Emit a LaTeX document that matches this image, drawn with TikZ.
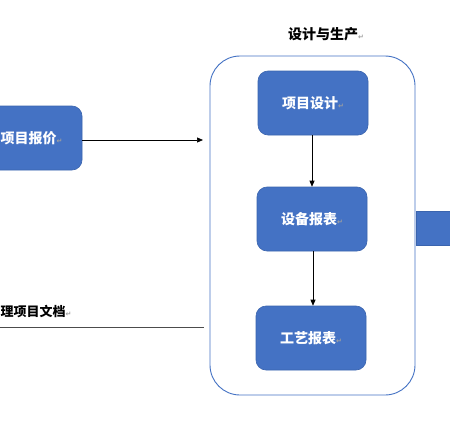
\documentclass[tikz,border=0pt]{standalone}
\usepackage{fontspec}
\usetikzlibrary{arrows.meta}
\newfontfamily\cjk{Noto Sans CJK SC}
\newfontfamily\dejavu{DejaVu Sans}
\definecolor{boxblue}{HTML}{4472C4}
\definecolor{boxedge}{HTML}{3A64AE}
\definecolor{retgray}{HTML}{A0A0A0}
\newcommand\retmark{{\dejavu\fontsize{7}{7}\selectfont\color{retgray}↵}}
\tikzset{
  bluebox/.style={rectangle, rounded corners=10pt, fill=boxblue, draw=boxedge, line width=0.6pt,
    minimum width=110pt, minimum height=64pt, inner sep=0pt,
    font=\cjk\bfseries\fontsize{14}{14}\selectfont, text=white},
  whitelabel/.style={inner sep=0pt, font=\cjk\bfseries\fontsize{14}{14}\selectfont, text=white},
  blacklabel/.style={inner sep=0pt, font=\cjk\bfseries\fontsize{14}{14}\selectfont, text=black},
  flowarrow/.style={-{Triangle[length=6pt,width=5pt]}, line width=0.7pt, draw=black},
}
\begin{document}
\begin{tikzpicture}[x=1pt,y=-1pt]
\useasboundingbox (0,0) rectangle (450,423);
\clip (0,0) rectangle (450,423);
\fill[white] (0,0) rectangle (450,423);
% container
\node[rectangle, rounded corners=30pt, draw=boxblue, line width=0.9pt, minimum width=205pt, minimum height=339pt, inner sep=0pt] (cont) at (312.5,225.5) {};
\node[blacklabel] (title) at (326,34) {设计与生产\retmark};
% boxes
\node[bluebox] (design) at (313,103) {项目设计\retmark};
\node[bluebox] (equip) at (312,219) {设备报表\retmark};
\node[bluebox] (proc) at (311,338) {工艺报表\retmark};
\node[bluebox] (quote) at (27,138) {};
\node[whitelabel, anchor=west] (quotetext) at (0.5,138) {项目报价\retmark};
% right box
\node[rectangle, fill=boxblue, draw=boxedge, line width=0.6pt, minimum width=60pt, minimum height=34pt, inner sep=0pt, anchor=west] (right) at (416,228) {};
% arrows
\coordinate (a1) at (312,0);
\coordinate (a2) at (313,0);
\draw[flowarrow] (design.south -| a1) -- (equip.north -| a1);
\draw[flowarrow] (equip.south -| a2) -- (proc.north -| a2);
\coordinate (qend) at (203,140);
\draw[flowarrow] (quote.east |- qend) -- (qend);
% document label and line
\node[blacklabel, anchor=west, font=\cjk\bfseries\fontsize{13}{13}\selectfont] (doc) at (0.5,312) {理项目文档\retmark};
\coordinate (lstart) at (-5,327);
\coordinate (lend) at (204,327);
\draw[line width=0.8pt, draw=black!70] (lstart) -- (lend);
\end{tikzpicture}
\end{document}
